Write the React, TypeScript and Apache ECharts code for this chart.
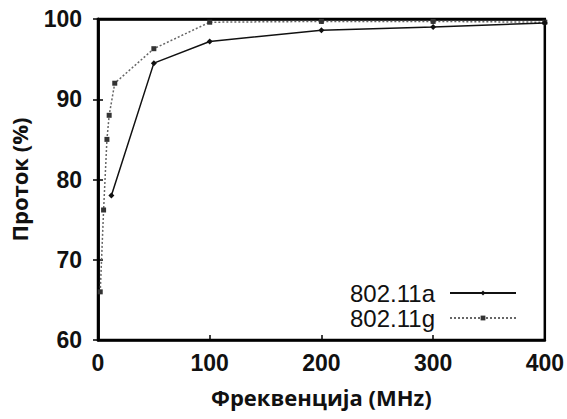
import React, { useEffect, useRef } from "react";
import * as echarts from "echarts";

const seriesANames = "802.11a";
const seriesGNames = "802.11g";
const freqA = [12, 50, 100, 200, 300, 400];
const valA = [78, 94.5, 97.2, 98.6, 99.0, 99.5];
const freqG = [2, 5, 8, 10, 15, 50, 100, 200, 300, 400];
const valG = [66, 76.2, 85, 88, 92, 96.3, 99.6, 99.7, 99.7, 99.6];
const xTitle = "Фреквенција (MHz)";
const yTitle = "Проток (%)";

export default function App() {
  const ref = useRef<HTMLDivElement>(null);
  useEffect(() => {
    if (!ref.current) return;
    const chart = echarts.init(ref.current, undefined, { renderer: "svg" });
    const tickLabel = {
      color: "#111",
      fontSize: 23,
      fontWeight: "bold" as const,
      fontFamily: "Liberation Sans, Arial, sans-serif",
    };
    const titleStyle = {
      fontSize: 22,
      fontWeight: "bold" as const,
      color: "#111",
      fontFamily: "Open Sans, Noto Sans, sans-serif",
    };
    chart.setOption({
      animation: false,
      backgroundColor: "#fff",
      grid: {
        left: 97,
        right: 12,
        top: 19,
        bottom: 79,
        show: true,
        borderColor: "#000",
        borderWidth: 2.5,
        containLabel: false,
      },
      legend: {
        orient: "vertical",
        right: 48,
        top: 279,
        align: "right",
        itemWidth: 66,
        itemHeight: 6,
        itemGap: 1,
        padding: [2, 2, 0, 4],
        backgroundColor: "#fff",
        textStyle: {
          fontSize: 24,
          color: "#111",
          fontFamily: "Liberation Sans, Arial, sans-serif",
          padding: [0, 10, 0, 0],
        },
        data: [seriesANames, seriesGNames],
      },
      xAxis: [
        {
          type: "value",
          min: 0,
          max: 400,
          interval: 100,
          position: "bottom",
          name: xTitle,
          nameLocation: "middle",
          nameGap: 46,
          nameTextStyle: titleStyle,
          axisLine: { show: true, lineStyle: { color: "#000", width: 2.5 } },
          axisTick: { show: true, inside: true, length: 5, lineStyle: { color: "#000", width: 1.5 } },
          axisLabel: { ...tickLabel, margin: 11 },
          splitLine: { show: false },
        },
        {
          type: "value",
          min: 0,
          max: 400,
          interval: 100,
          position: "top",
          axisLine: { show: true, lineStyle: { color: "#000", width: 2.5 } },
          axisTick: { show: true, inside: true, length: 5, lineStyle: { color: "#000", width: 1.5 } },
          axisLabel: { show: false },
          splitLine: { show: false },
        },
      ],
      yAxis: [
        {
          type: "value",
          min: 60,
          max: 100,
          interval: 10,
          position: "left",
          name: yTitle,
          nameLocation: "middle",
          nameGap: 68,
          nameTextStyle: titleStyle,
          axisLine: { show: true, lineStyle: { color: "#000", width: 2.5 } },
          axisTick: { show: true, inside: true, length: 5, lineStyle: { color: "#000", width: 1.5 } },
          axisLabel: { ...tickLabel, margin: 16 },
          splitLine: { show: false },
        },
        {
          type: "value",
          min: 60,
          max: 100,
          interval: 10,
          position: "right",
          axisLine: { show: true, lineStyle: { color: "#000", width: 2.5 } },
          axisTick: { show: true, inside: true, length: 5, lineStyle: { color: "#000", width: 1.5 } },
          axisLabel: { show: false },
          splitLine: { show: false },
        },
      ],
      series: [
        {
          name: seriesANames,
          type: "line",
          data: freqA.map((f, i) => [f, valA[i]]),
          symbol: "diamond",
          symbolSize: 6,
          lineStyle: { color: "#111", width: 1.5, type: "solid" },
          itemStyle: { color: "#111" },
          z: 3,
        },
        {
          name: seriesGNames,
          type: "line",
          data: freqG.map((f, i) => [f, valG[i]]),
          symbol: "rect",
          symbolSize: 5,
          lineStyle: { color: "#666", width: 1.5, type: [2, 2] },
          itemStyle: { color: "#333" },
          z: 2,
        },
      ],
    });
    return () => chart.dispose();
  }, []);
  return <div ref={ref} style={{ width: 567, height: 419, position: "absolute", left: 0, top: 0 }} />;
}
